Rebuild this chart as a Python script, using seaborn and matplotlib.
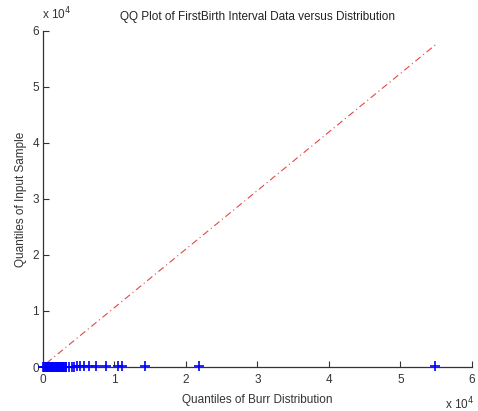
import matplotlib
matplotlib.use("Agg")
import matplotlib.pyplot as plt
import seaborn as sns
import numpy as np

sns.set_style("white")
plt.rcParams['font.family'] = ['Liberation Sans', 'DejaVu Sans']

# Burr distribution quantiles (x, in units of 1e4) and sample quantiles (y, in 1e4)
burr_q = [0.005, 0.015, 0.025, 0.035, 0.045, 0.055, 0.065, 0.075, 0.085, 0.095,
          0.105, 0.115, 0.125, 0.135, 0.145, 0.155, 0.165, 0.175, 0.185, 0.195,
          0.205, 0.215, 0.225, 0.235, 0.245, 0.255, 0.265, 0.275, 0.285, 0.295,
          0.305, 0.315, 0.325, 0.36, 0.40, 0.44, 0.47, 0.52, 0.57, 0.65, 0.74,
          0.88, 1.05, 1.11, 1.43, 2.18, 5.49]
sample_q = [0.001, 0.001, 0.001, 0.002, 0.002, 0.002, 0.002, 0.003, 0.003, 0.003,
            0.003, 0.003, 0.004, 0.004, 0.004, 0.004, 0.004, 0.005, 0.005, 0.005,
            0.005, 0.005, 0.006, 0.006, 0.006, 0.006, 0.006, 0.007, 0.007, 0.007,
            0.007, 0.008, 0.008, 0.008, 0.009, 0.009, 0.010, 0.010, 0.011, 0.012, 0.013,
            0.014, 0.015, 0.016, 0.017, 0.018, 0.020]
ref_x = [0.05, 5.51]
ref_y = [0.07, 5.77]

fig = plt.figure(figsize=(4.78, 4.11), dpi=100)
ax = fig.add_axes([0.090, 0.107, 0.897, 0.818])

sns.lineplot(x=ref_x, y=ref_y, ax=ax, color='#e04848', linewidth=0.8,
             linestyle=(0, (6, 3, 1, 3)))
pts = sns.scatterplot(x=burr_q, y=sample_q, ax=ax, marker='+', color='#0000ff',
                      s=45, linewidth=1.2, zorder=5)
for coll in ax.collections:
    coll.set_clip_on(False)

ax.set_xlim(0, 6)
ax.set_ylim(0, 6)
ax.set_xticks([0, 1, 2, 3, 4, 5, 6])
ax.set_yticks([0, 1, 2, 3, 4, 5, 6])
ax.set_xticklabels(['0', '1', '2', '3', '4', '5', '6'])
ax.set_yticklabels(['0', '1', '2', '3', '4', '5', '6'])
ax.tick_params(direction='in', length=4, width=0.8, labelsize=8.5, color='#333333',
               labelcolor='#333333', bottom=True, left=True)
ax.tick_params(axis='x', pad=5)
ax.tick_params(axis='y', pad=3)
for side in ['top', 'right']:
    ax.spines[side].set_visible(False)
for side in ['left', 'bottom']:
    ax.spines[side].set_color('#333333')
    ax.spines[side].set_linewidth(0.9)

ax.set_title('QQ Plot of FirstBirth Interval Data versus Distribution',
             fontsize=8.5, color='#222222', pad=8)
ax.set_xlabel('Quantiles of Burr Distribution', fontsize=8.5, color='#333333', labelpad=6)
ax.set_ylabel('Quantiles of Input Sample', fontsize=8.5, color='#333333', labelpad=4)

fig.text(0.088, 0.965, r'x 10$^{4}$', fontsize=8.5, color='#333333', ha='left', va='center')
fig.text(0.93, 0.018, r'x 10$^{4}$', fontsize=8.5, color='#333333', ha='left', va='center')

fig.savefig('out.png', dpi=100)
